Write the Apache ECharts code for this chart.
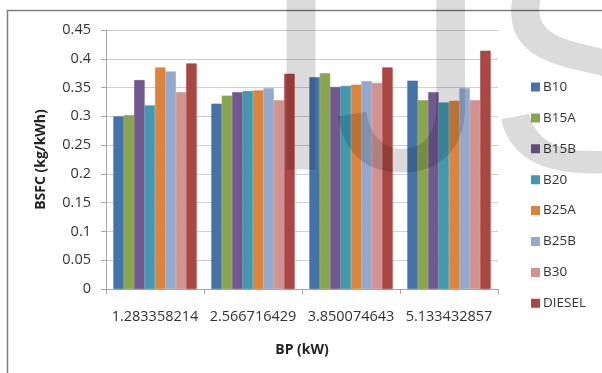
<!DOCTYPE html>
<html>
<head>
<meta charset="utf-8">
<script src="https://cdn.jsdelivr.net/npm/echarts@6/dist/echarts.min.js"></script>
<style>
html,body{margin:0;padding:0;background:#fff;}
#c{width:602px;height:373px;}
</style>
</head>
<body>
<div id="c"></div>
<script>
const categories = ['1.283358214', '2.566716429', '3.850074643', '5.133432857'];
const seriesNames = ['B10', 'B15A', 'B15B', 'B20', 'B25A', 'B25B', 'B30', 'DIESEL'];
const B10    = [0.300, 0.322, 0.368, 0.362];
const B15A   = [0.302, 0.336, 0.375, 0.328];
const B15B   = [0.363, 0.342, 0.351, 0.342];
const B20    = [0.319, 0.344, 0.353, 0.324];
const B25A   = [0.385, 0.345, 0.355, 0.327];
const B25B   = [0.378, 0.349, 0.361, 0.349];
const B30    = [0.342, 0.328, 0.358, 0.328];
const DIESEL = [0.392, 0.374, 0.385, 0.414];
const yTicks = [0, 0.05, 0.1, 0.15, 0.2, 0.25, 0.3, 0.35, 0.4, 0.45];

const values = [B10, B15A, B15B, B20, B25A, B25B, B30, DIESEL];
const colors = ['#4572A7', '#89A54E', '#71588F', '#4198AF', '#DB843D', '#93A9CF', '#D19392', '#AA4643'];
const FONT = 'Open Sans';

const chart = echarts.init(document.getElementById('c'), null, {renderer: 'canvas'});
const wm = 'rgba(0,0,0,0.14)';
chart.setOption({
  animation: false,
  color: colors,
  textStyle: {fontFamily: FONT},
  grid: {left: 106, right: 104, top: 30, bottom: 84, containLabel: false},
  legend: {
    orient: 'vertical',
    left: 526,
    top: 75,
    itemWidth: 7,
    itemHeight: 7,
    itemGap: 16.9,
    icon: 'rect',
    data: seriesNames,
    textStyle: {fontFamily: FONT, fontSize: 13.5, color: '#333', lineHeight: 14, padding: [0, 0, 0, -1]}
  },
  xAxis: {
    type: 'category',
    data: categories,
    axisLine: {lineStyle: {color: '#A6A6A6', width: 1}},
    axisTick: {show: true, length: 5, lineStyle: {color: '#A6A6A6'}},
    axisLabel: {fontFamily: FONT, fontSize: 14.5, color: '#333', margin: 20, interval: 0},
    name: 'BP (kW)',
    nameLocation: 'middle',
    nameGap: 54,
    nameTextStyle: {fontFamily: FONT, fontSize: 14, fontWeight: 'bold', color: '#222'}
  },
  yAxis: {
    type: 'value',
    min: 0,
    max: 0.45,
    interval: 0.05,
    axisLine: {show: true, lineStyle: {color: '#A6A6A6', width: 1}},
    axisTick: {show: true, length: 5, lineStyle: {color: '#A6A6A6'}},
    splitLine: {lineStyle: {color: '#CFCFCF', width: 1}},
    axisLabel: {
      fontFamily: FONT, fontSize: 14.5, color: '#333', margin: 15,
      formatter: function (v) {
        const t = yTicks.find(x => Math.abs(x - v) < 1e-9);
        return String(t !== undefined ? t : v);
      }
    },
    name: 'BSFC (kg/kWh)',
    nameLocation: 'middle',
    nameGap: 58,
    nameTextStyle: {fontFamily: FONT, fontSize: 14, fontWeight: 'bold', color: '#222'}
  },
  series: seriesNames.map((n, i) => ({
    name: n,
    type: 'bar',
    data: values[i],
    barGap: '0%',
    barCategoryGap: '15%',
    itemStyle: {color: colors[i], borderColor: colors[i], borderWidth: 0.6}
  })),
  graphic: [
    {type: 'rect', z: 50, silent: true, shape: {x: 7.5, y: 10.5, width: 700, height: 500},
     style: {fill: 'none', stroke: '#7f7f7f', lineWidth: 1.5}},
    {type: 'text', z: 100, silent: true, left: 258, top: -71,
     style: {text: 'I', font: 'normal 310px "Liberation Sans"', fill: wm}},
    {type: 'text', z: 100, silent: true, left: 333, top: -71,
     style: {text: 'J', font: 'normal 310px "Liberation Sans"', fill: wm}},
    {type: 'text', z: 100, silent: true, left: 487, top: -70,
     style: {text: 'S', font: 'normal 310px "Liberation Sans"', fill: wm}}
  ]
});
</script>
</body>
</html>
